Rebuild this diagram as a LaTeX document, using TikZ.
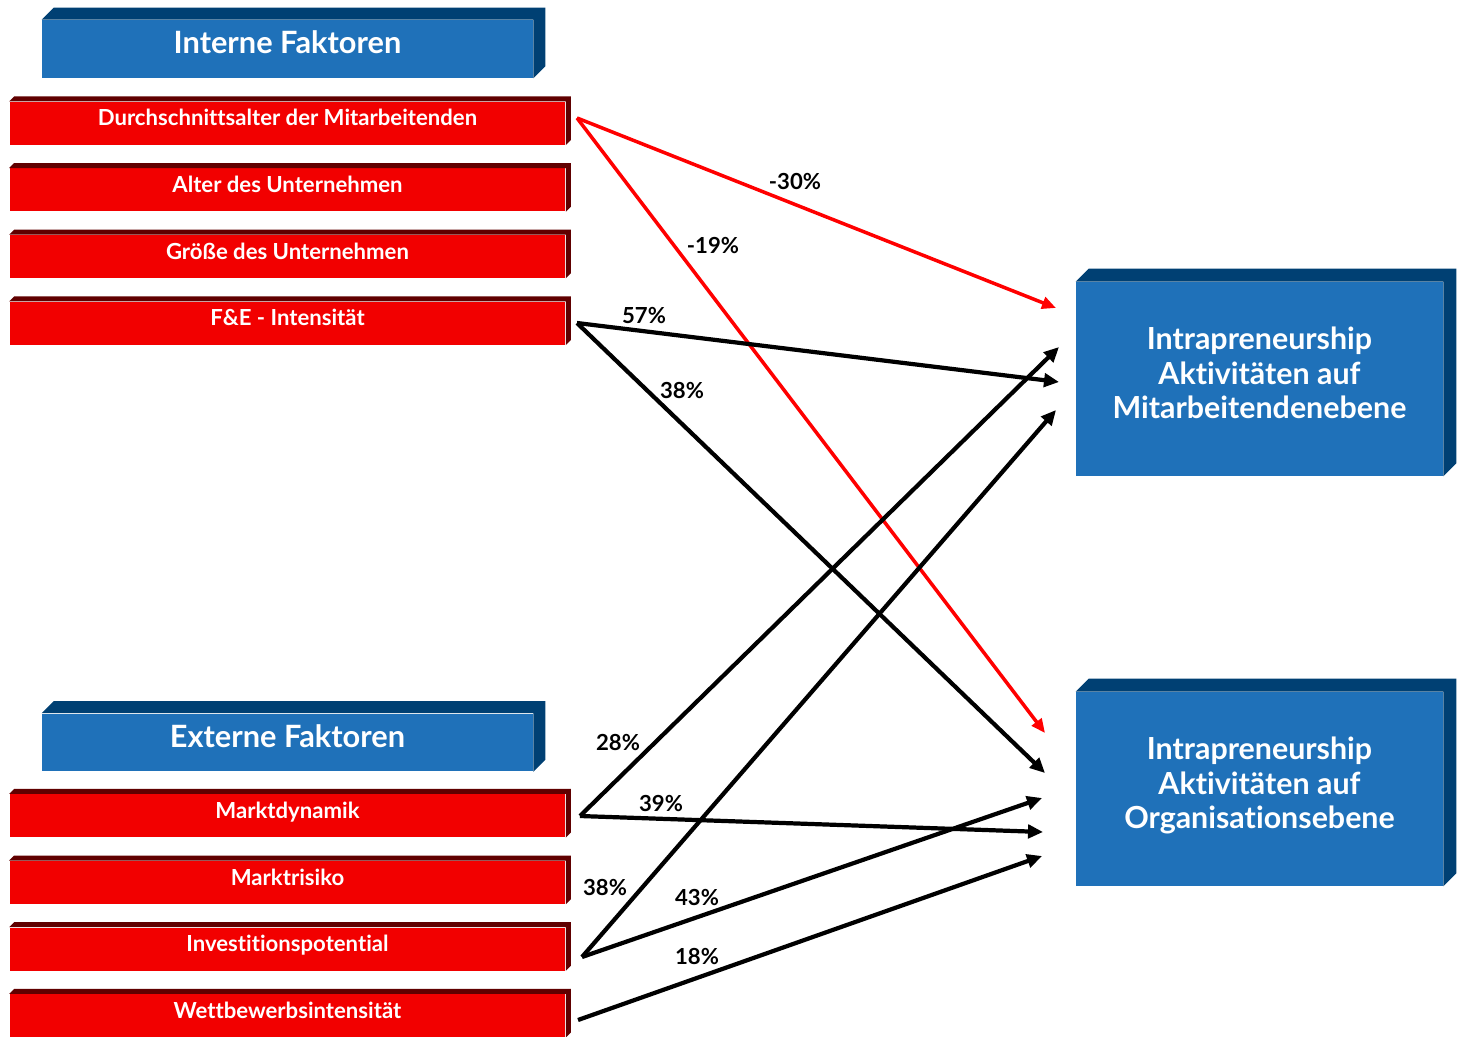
\documentclass[tikz,border=0pt]{standalone}
\usepackage{fontspec}
\setmainfont{Lato}[Ligatures=NoCommon]
\usetikzlibrary{positioning,arrows.meta}
\definecolor{boxblue}{RGB}{31,113,185}
\definecolor{sideblue}{RGB}{0,64,115}
\definecolor{boxred}{RGB}{242,0,0}
\definecolor{sidered}{RGB}{96,0,0}
\begin{document}
\begin{tikzpicture}[
        x=0.02cm, y=-0.02cm,
        node distance=0.46cm,
        header/.style={rectangle, fill=boxblue, text=white, minimum width=9.82cm, minimum height=1.16cm, text height=12.5pt, text depth=7pt, font=\fontsize{17.5}{20}\selectfont\bfseries},
        factor/.style={rectangle, fill=boxred, text=white, minimum width=11.12cm, minimum height=0.86cm, text height=9pt, text depth=6pt, font=\fontsize{12.6}{15}\selectfont\bfseries},
        target/.style={rectangle, fill=boxblue, text=white, minimum width=7.34cm, minimum height=3.88cm, align=center, text depth=6.8pt, font=\fontsize{17.3}{19.6}\selectfont\bfseries},
        arrow/.style={-{Triangle[length=0.3cm,width=0.27cm]}, line width=2.4pt, black},
        negarrow/.style={-{Triangle[length=0.28cm,width=0.24cm]}, line width=2pt, red},
        pct/.style={font=\fontsize{12.6}{15}\selectfont\bfseries}
    ]
        \useasboundingbox (0,0) rectangle (1464,1037);

        % Internal factors
        \node[header] (intern) at (287.5,49) {Interne Faktoren};
        \node[factor, below=of intern] (d1) {Durchschnittsalter der Mitarbeitenden};
        \node[factor, below=of d1] (d2) {Alter des Unternehmen};
        \node[factor, below=of d2] (d3) {Größe des Unternehmen};
        \node[factor, below=of d3] (d4) {F\&E - Intensität};

        % External factors
        \node[header] (extern) at (287.5,742.5) {Externe Faktoren};
        \node[factor, below=0.44cm of extern] (e1) {Marktdynamik};
        \node[factor, below=of e1] (e2) {Marktrisiko};
        \node[factor, below=of e2] (e3) {Investitionspotential};
        \node[factor, below=of e3] (e4) {Wettbewerbsintensität};

        % Targets
        \node[target] (mit) at (1259.5,379) {Intrapreneurship\\Aktivitäten auf\\Mitarbeitendenebene};
        \node[target] (org) at (1259.5,789) {Intrapreneurship\\Aktivitäten auf\\Organisationsebene};

        % Box sides
        \foreach \n/\d in {intern/12, extern/12, mit/13, org/13}
            \fill[sideblue] (\n.north west) -- ++(\d,-\d) -- ([shift={(\d,-\d)}]\n.north east) -- ([shift={(\d,-\d)}]\n.south east) -- (\n.south east) -- (\n.north east) -- cycle;
        \foreach \n in {d1, d2, d3, d4, e1, e2, e3, e4}
            \fill[sidered] (\n.north west) -- ++(5,-5) -- ([shift={(5,-5)}]\n.north east) -- ([shift={(5,-5)}]\n.south east) -- (\n.south east) -- (\n.north east) -- cycle;

        % Arrow ends
        \coordinate (dS) at (577,118);
        \coordinate (fS) at (577,323);
        \coordinate (mS) at (580,816);
        \coordinate (iS) at (582,957);
        \coordinate (wS) at (578,1020);
        \coordinate (mitA) at (1056,308);
        \coordinate (mitB) at (1059,382);
        \coordinate (mitC) at (1059,347);
        \coordinate (mitD) at (1056,410);
        \coordinate (orgA) at (1045,733);
        \coordinate (orgB) at (1045,773);
        \coordinate (orgC) at (1043,832);
        \coordinate (orgD) at (1042,798);
        \coordinate (orgE) at (1042,856);

        % Arrows
        \draw[negarrow] (dS) -- (mitA);
        \draw[negarrow] (dS) -- (orgA);
        \draw[arrow] (fS) -- (mitB);
        \draw[arrow] (fS) -- (orgB);
        \draw[arrow] (mS) -- (mitC);
        \draw[arrow] (mS) -- (orgC);
        \draw[arrow] (iS) -- (mitD);
        \draw[arrow] (iS) -- (orgD);
        \draw[arrow] (wS) -- (orgE);

        % Labels
        \node[pct] (p1) at (795,182) {-30\%};
        \node[pct] (p2) at (713,246) {-19\%};
        \node[pct] (p3) at (644,316) {57\%};
        \node[pct] (p4) at (682,391) {38\%};
        \node[pct] (p5) at (618,743) {28\%};
        \node[pct] (p6) at (661,804) {39\%};
        \node[pct] (p7) at (605,888) {38\%};
        \node[pct] (p8) at (697,898) {43\%};
        \node[pct] (p9) at (697,956) {18\%};
    \end{tikzpicture}
\end{document}
